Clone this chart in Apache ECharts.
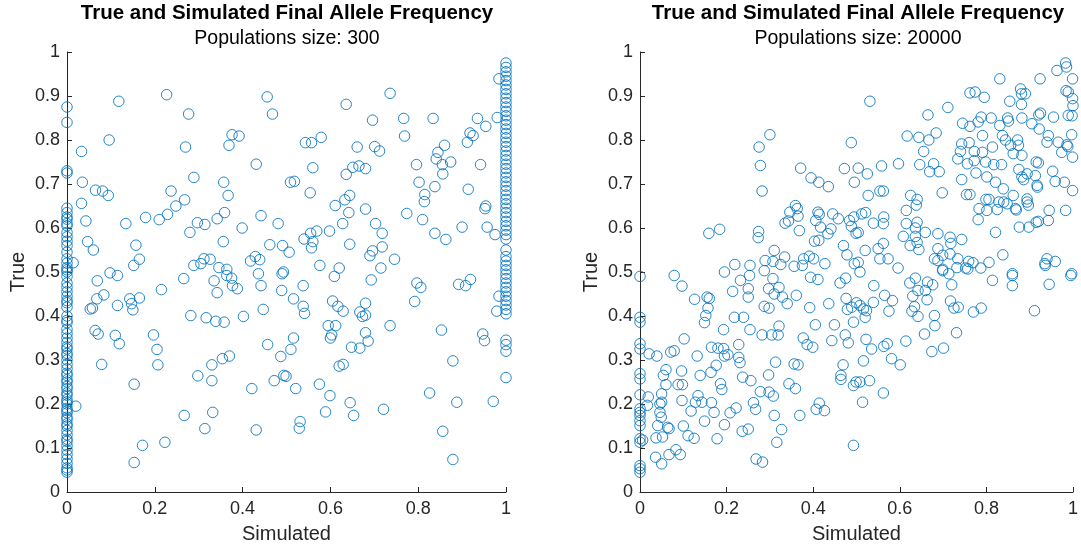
<!DOCTYPE html>
<html>
<head>
<meta charset="utf-8">
<script src="https://cdn.jsdelivr.net/npm/echarts@6/dist/echarts.min.js"></script>
<style>
html,body{margin:0;padding:0;background:#fff;}
#chart{width:1081px;height:552px;}
</style>
</head>
<body>
<div id="chart"></div>
<script>
// ---------- DATA ----------
const panelTitles = ['True and Simulated Final Allele Frequency', 'True and Simulated Final Allele Frequency'];
const panelSubtitles = ['Populations size: 300', 'Populations size: 20000'];
const xTicks = [0, 0.2, 0.4, 0.6, 0.8, 1];
const yTicks = [0, 0.1, 0.2, 0.3, 0.4, 0.5, 0.6, 0.7, 0.8, 0.9, 1];

// Population 300: points fixed at simulated = 0 (true values)
const pop300LostTrue = [0.875,0.84,0.73,0.725,0.645,0.635,0.625,0.62,0.61,0.605,0.59,0.58,0.57,0.56,0.545,0.53,0.52,0.51,0.505,0.5,0.49,0.475,0.465,0.455,0.445,0.435,0.43,0.42,0.40,0.39,0.385,0.37,0.36,0.35,0.34,0.33,0.325,0.315,0.31,0.30,0.29,0.28,0.27,0.265,0.255,0.25,0.24,0.235,0.225,0.22,0.21,0.205,0.20,0.19,0.185,0.18,0.17,0.165,0.155,0.15,0.14,0.13,0.12,0.115,0.105,0.095,0.085,0.075,0.065,0.055,0.05,0.045];
// Population 300: points fixed at simulated = 1 (true values)
const pop300FixedTrue = [0.975,0.965,0.955,0.945,0.935,0.925,0.915,0.905,0.895,0.885,0.875,0.865,0.855,0.845,0.835,0.825,0.815,0.805,0.795,0.785,0.775,0.765,0.755,0.745,0.735,0.725,0.715,0.705,0.695,0.685,0.675,0.665,0.655,0.645,0.635,0.625,0.615,0.605,0.595,0.585,0.575,0.55,0.535,0.525,0.515,0.505,0.495,0.485,0.475,0.465,0.455,0.445,0.435,0.425,0.415,0.405,0.345,0.335,0.32,0.26];
// Population 300: other points [simulated, true]
const pop300Points = [
[0.118,0.888],[0.227,0.903],[0.277,0.859],[0.096,0.800],[0.033,0.774],[0.270,0.784],[0.376,0.812],[0.392,0.809],[0.369,0.788],[0.456,0.898],[0.468,0.859],[0.431,0.745],[0.035,0.704],[0.065,0.686],[0.081,0.684],[0.094,0.674],[0.033,0.656],[0.237,0.684],[0.289,0.715],[0.268,0.664],[0.248,0.650],[0.229,0.631],[0.210,0.619],[0.179,0.624],[0.134,0.610],[0.043,0.616],[0.357,0.704],[0.367,0.674],[0.359,0.635],[0.342,0.621],[0.297,0.612],[0.314,0.608],[0.280,0.590],[0.399,0.600],[0.442,0.628],[0.481,0.610],[0.356,0.569],[0.462,0.562],[0.047,0.569],[0.060,0.550],[0.157,0.561],[0.165,0.529],[0.152,0.515],[0.289,0.515],[0.305,0.519],[0.312,0.530],[0.326,0.529],[0.346,0.510],[0.364,0.506],[0.418,0.525],[0.429,0.535],[0.439,0.528],[0.491,0.560],[0.014,0.521],
[0.736,0.906],[0.636,0.881],[0.696,0.845],[0.767,0.849],[0.834,0.849],[0.769,0.809],[0.935,0.849],[0.954,0.831],[0.980,0.851],[0.984,0.939],[0.918,0.816],[0.925,0.810],[0.912,0.795],[0.543,0.794],[0.557,0.794],[0.579,0.806],[0.661,0.784],[0.701,0.785],[0.712,0.775],[0.860,0.788],[0.845,0.772],[0.841,0.757],[0.855,0.744],[0.874,0.750],[0.856,0.723],[0.796,0.744],[0.942,0.744],[0.802,0.704],[0.838,0.694],[0.815,0.676],[0.814,0.660],[0.914,0.688],[0.954,0.650],[0.952,0.644],[0.957,0.602],[0.975,0.585],[0.900,0.602],[0.863,0.574],[0.838,0.588],[0.810,0.619],[0.774,0.633],[0.560,0.737],[0.554,0.680],[0.509,0.704],[0.518,0.706],[0.636,0.722],[0.651,0.738],[0.665,0.741],[0.680,0.735],[0.644,0.674],[0.633,0.664],[0.611,0.651],[0.642,0.635],[0.680,0.643],[0.628,0.610],[0.703,0.610],[0.718,0.588],[0.718,0.557],[0.696,0.548],[0.690,0.537],[0.746,0.529],[0.715,0.509],[0.644,0.563],[0.598,0.593],[0.569,0.593],[0.555,0.588],[0.540,0.575],[0.560,0.569],[0.557,0.555],[0.506,0.545],[0.576,0.515],[0.620,0.509],[0.493,0.500],
[0.069,0.480],[0.098,0.498],[0.115,0.492],[0.053,0.416],[0.058,0.418],[0.068,0.439],[0.084,0.448],[0.115,0.424],[0.143,0.439],[0.147,0.428],[0.150,0.414],[0.165,0.441],[0.215,0.460],[0.266,0.485],[0.335,0.480],[0.342,0.453],[0.364,0.492],[0.375,0.486],[0.377,0.469],[0.388,0.462],[0.436,0.496],[0.442,0.469],[0.489,0.458],[0.490,0.496],[0.282,0.401],[0.317,0.396],[0.339,0.388],[0.358,0.386],[0.402,0.399],[0.447,0.415],[0.064,0.367],[0.071,0.359],[0.110,0.356],[0.119,0.337],[0.197,0.357],[0.205,0.324],[0.207,0.289],[0.079,0.290],[0.153,0.245],[0.298,0.264],[0.330,0.289],[0.330,0.253],[0.354,0.303],[0.370,0.309],[0.457,0.335],[0.487,0.308],[0.421,0.235],[0.472,0.253],[0.494,0.265],[0.267,0.174],[0.332,0.181],[0.314,0.144],[0.431,0.141],[0.172,0.106],[0.223,0.113],[0.153,0.067],[0.020,0.195],
[0.609,0.490],[0.693,0.482],[0.538,0.469],[0.516,0.439],[0.538,0.422],[0.541,0.406],[0.605,0.434],[0.617,0.422],[0.629,0.411],[0.667,0.409],[0.680,0.429],[0.673,0.399],[0.680,0.402],[0.595,0.378],[0.612,0.378],[0.603,0.357],[0.600,0.350],[0.680,0.362],[0.686,0.343],[0.648,0.329],[0.667,0.327],[0.736,0.378],[0.516,0.350],[0.510,0.324],[0.620,0.286],[0.629,0.290],[0.499,0.263],[0.521,0.235],[0.575,0.245],[0.599,0.219],[0.645,0.203],[0.589,0.182],[0.653,0.174],[0.721,0.188],[0.531,0.160],[0.529,0.145],[0.797,0.475],[0.806,0.465],[0.792,0.433],[0.892,0.472],[0.908,0.469],[0.919,0.483],[0.853,0.368],[0.947,0.359],[0.951,0.344],[0.879,0.298],[0.826,0.225],[0.888,0.204],[0.971,0.206],[0.856,0.138],[0.879,0.074],[0.984,0.445],[0.979,0.411]
];

// Population 20000: points at simulated = 0 (true values)
const pop20000LostTrue = [0.49,0.397,0.386,0.337,0.325,0.269,0.257,0.221,0.189,0.181,0.174,0.162,0.151,0.121,0.113,0.060,0.053,0.045];
// Population 20000: other points [simulated, true]
const pop20000Points = [
[0.300,0.812],[0.275,0.784],[0.278,0.742],[0.282,0.684],[0.371,0.736],[0.395,0.714],[0.413,0.704],[0.435,0.694],[0.488,0.794],[0.472,0.735],[0.495,0.704],[0.159,0.588],[0.184,0.597],[0.274,0.592],[0.273,0.578],[0.310,0.549],[0.335,0.611],[0.343,0.616],[0.359,0.651],[0.363,0.644],[0.346,0.636],[0.365,0.627],[0.368,0.594],[0.411,0.636],[0.414,0.631],[0.406,0.617],[0.417,0.602],[0.434,0.587],[0.441,0.598],[0.445,0.632],[0.458,0.621],[0.403,0.570],[0.413,0.572],[0.470,0.560],[0.478,0.539],[0.484,0.617],[0.488,0.604],[0.499,0.588],[0.289,0.526],[0.307,0.524],[0.325,0.517],[0.334,0.534],[0.356,0.513],[0.375,0.515],[0.378,0.530],[0.391,0.536],[0.401,0.530],[0.427,0.519],[0.219,0.517],[0.254,0.515],[0.195,0.500],[0.079,0.492],[0.495,0.519],
[0.531,0.888],[0.711,0.874],[0.665,0.857],[0.762,0.907],[0.774,0.909],[0.795,0.897],[0.831,0.939],[0.924,0.939],[0.963,0.958],[0.983,0.975],[0.985,0.966],[0.999,0.939],[0.984,0.912],[0.989,0.909],[0.999,0.894],[1.0,0.878],[0.989,0.856],[0.998,0.855],[0.879,0.916],[0.890,0.905],[0.881,0.905],[0.854,0.888],[0.881,0.881],[0.925,0.861],[0.921,0.857],[0.955,0.852],[0.882,0.850],[0.905,0.837],[0.849,0.850],[0.851,0.843],[0.811,0.850],[0.788,0.852],[0.781,0.841],[0.745,0.838],[0.762,0.831],[0.831,0.833],[0.922,0.825],[0.943,0.810],[0.940,0.795],[0.966,0.795],[0.986,0.789],[0.997,0.812],[0.988,0.785],[0.974,0.772],[0.999,0.761],[0.837,0.810],[0.844,0.800],[0.872,0.800],[0.874,0.788],[0.856,0.788],[0.862,0.769],[0.882,0.765],[0.814,0.784],[0.791,0.810],[0.760,0.794],[0.743,0.791],[0.740,0.774],[0.772,0.774],[0.791,0.772],[0.734,0.757],[0.756,0.746],[0.772,0.753],[0.798,0.750],[0.817,0.744],[0.835,0.744],[0.776,0.725],[0.801,0.716],[0.821,0.704],[0.875,0.733],[0.882,0.716],[0.886,0.710],[0.894,0.723],[0.915,0.750],[0.920,0.748],[0.913,0.719],[0.917,0.697],[0.918,0.693],[0.953,0.729],[0.959,0.706],[0.980,0.704],[0.999,0.685],[0.743,0.710],[0.839,0.689],[0.862,0.674],[0.840,0.659],[0.848,0.655],[0.867,0.644],[0.869,0.641],[0.894,0.659],[0.897,0.652],[0.894,0.666],[0.829,0.659],[0.806,0.665],[0.799,0.665],[0.801,0.640],[0.783,0.644],[0.781,0.619],[0.825,0.642],[0.876,0.602],[0.898,0.602],[0.915,0.613],[0.920,0.615],[0.943,0.617],[0.945,0.640],[0.983,0.640],[0.821,0.590],[0.838,0.539],[0.940,0.530],[0.959,0.524],[0.935,0.519],[0.997,0.496],[0.860,0.496],[0.698,0.680],[0.762,0.676],[0.754,0.676],[0.597,0.746],[0.558,0.741],[0.504,0.736],[0.525,0.723],[0.554,0.684],[0.562,0.684],[0.527,0.674],[0.617,0.809],[0.644,0.806],[0.667,0.800],[0.684,0.816],[0.655,0.774],[0.646,0.744],[0.669,0.728],[0.678,0.746],[0.691,0.728],[0.625,0.674],[0.640,0.665],[0.638,0.652],[0.615,0.640],[0.494,0.625],[0.512,0.632],[0.521,0.635],[0.539,0.611],[0.563,0.625],[0.562,0.610],[0.504,0.590],[0.615,0.610],[0.640,0.613],[0.636,0.600],[0.659,0.590],[0.688,0.587],[0.608,0.581],[0.636,0.581],[0.640,0.567],[0.624,0.560],[0.644,0.551],[0.688,0.553],[0.716,0.579],[0.718,0.565],[0.743,0.574],[0.699,0.538],[0.716,0.541],[0.680,0.530],[0.688,0.526],[0.734,0.530],[0.759,0.524],[0.769,0.521],[0.806,0.522],[0.787,0.509],[0.752,0.509],[0.732,0.510],[0.699,0.506],[0.596,0.509],[0.554,0.530],[0.573,0.530],[0.550,0.553],[0.562,0.565],[0.520,0.549],[0.504,0.522],[0.508,0.500],
[0.097,0.468],[0.126,0.438],[0.155,0.443],[0.160,0.440],[0.157,0.418],[0.152,0.401],[0.149,0.385],[0.232,0.481],[0.214,0.456],[0.250,0.462],[0.250,0.443],[0.253,0.492],[0.218,0.397],[0.239,0.397],[0.193,0.369],[0.254,0.369],[0.102,0.348],[0.021,0.314],[0.039,0.309],[0.071,0.318],[0.079,0.321],[0.132,0.309],[0.165,0.329],[0.180,0.327],[0.193,0.326],[0.195,0.309],[0.203,0.312],[0.228,0.335],[0.228,0.306],[0.231,0.294],[0.176,0.288],[0.164,0.272],[0.139,0.265],[0.060,0.278],[0.054,0.265],[0.060,0.244],[0.096,0.275],[0.088,0.244],[0.098,0.244],[0.237,0.261],[0.256,0.253],[0.186,0.246],[0.189,0.233],[0.297,0.266],[0.313,0.295],[0.282,0.357],[0.304,0.357],[0.319,0.357],[0.321,0.377],[0.287,0.422],[0.298,0.418],[0.287,0.503],[0.307,0.485],[0.297,0.462],[0.310,0.450],[0.321,0.465],[0.329,0.443],[0.340,0.428],[0.361,0.447],[0.394,0.488],[0.411,0.483],[0.392,0.419],[0.436,0.428],[0.405,0.380],[0.449,0.380],[0.443,0.344],[0.474,0.357],[0.481,0.339],[0.462,0.475],[0.475,0.486],[0.476,0.440],[0.479,0.415],[0.500,0.430],[0.493,0.386],[0.377,0.350],[0.386,0.335],[0.399,0.329],[0.344,0.246],[0.359,0.235],[0.356,0.291],[0.365,0.289],[0.469,0.289],[0.464,0.265],[0.464,0.256],[0.493,0.242],[0.499,0.250],[0.278,0.228],[0.298,0.227],[0.308,0.218],[0.262,0.203],[0.267,0.188],[0.222,0.191],[0.208,0.180],[0.171,0.181],[0.165,0.203],[0.143,0.204],[0.134,0.219],[0.128,0.204],[0.118,0.184],[0.097,0.208],[0.050,0.223],[0.046,0.200],[0.050,0.204],[0.019,0.216],[0.017,0.197],[0.046,0.181],[0.049,0.170],[0.041,0.151],[0.064,0.147],[0.067,0.144],[0.052,0.125],[0.037,0.123],[0.006,0.118],[0.100,0.150],[0.111,0.128],[0.125,0.122],[0.149,0.161],[0.178,0.121],[0.195,0.153],[0.236,0.138],[0.250,0.143],[0.310,0.174],[0.327,0.142],[0.316,0.113],[0.369,0.174],[0.407,0.188],[0.414,0.202],[0.426,0.185],[0.493,0.106],[0.268,0.075],[0.283,0.068],[0.036,0.079],[0.050,0.064],[0.067,0.085],[0.083,0.096],[0.093,0.085],
[0.540,0.469],[0.565,0.447],[0.583,0.435],[0.575,0.411],[0.539,0.431],[0.523,0.412],[0.508,0.424],[0.516,0.416],[0.520,0.397],[0.489,0.420],[0.522,0.347],[0.535,0.325],[0.516,0.298],[0.563,0.331],[0.571,0.337],[0.614,0.343],[0.581,0.303],[0.601,0.289],[0.530,0.253],[0.508,0.250],[0.562,0.225],[0.514,0.204],[0.623,0.475],[0.636,0.486],[0.642,0.458],[0.659,0.458],[0.664,0.477],[0.676,0.471],[0.630,0.445],[0.663,0.437],[0.634,0.421],[0.628,0.411],[0.642,0.399],[0.680,0.401],[0.681,0.378],[0.657,0.359],[0.674,0.319],[0.701,0.327],[0.731,0.362],[0.720,0.471],[0.717,0.434],[0.725,0.418],[0.735,0.420],[0.699,0.503],[0.713,0.496],[0.757,0.507],[0.770,0.409],[0.788,0.418],[0.814,0.481],[0.860,0.492],[0.860,0.469],[0.911,0.412],[0.945,0.472],[0.936,0.515],[0.995,0.492]
];

// ---------- BUILD ----------
const data300 = pop300LostTrue.map(v => [0, v])
  .concat(pop300FixedTrue.map(v => [1, v]))
  .concat(pop300Points);
const data20000 = pop20000LostTrue.map(v => [0, v]).concat(pop20000Points);

const FONT = '"Liberation Sans", Arial, Helvetica, sans-serif';
const AX = '#262626';
const MARK = '#0072BD';

function xAxisOf(i) {
  return {
    gridIndex: i, type: 'value', min: 0, max: 1, interval: 0.2,
    name: 'Simulated', nameLocation: 'middle', nameGap: 32,
    nameTextStyle: { fontFamily: FONT, fontSize: 20, color: AX },
    axisLine: { show: true, onZero: false, lineStyle: { color: AX, width: 1 } },
    axisTick: { show: true, inside: true, length: 5, lineStyle: { color: AX } },
    axisLabel: { fontFamily: FONT, fontSize: 18, color: AX, margin: 8,
      formatter: v => xTicks.includes(+v.toFixed(2)) ? String(+v.toFixed(2)) : '' },
    splitLine: { show: false }
  };
}
function yAxisOf(i) {
  return {
    gridIndex: i, type: 'value', min: 0, max: 1, interval: 0.1,
    name: 'True', nameLocation: 'middle', nameGap: 39,
    nameTextStyle: { fontFamily: FONT, fontSize: 20, color: AX },
    axisLine: { show: true, onZero: false, lineStyle: { color: AX, width: 1 } },
    axisTick: { show: true, inside: true, length: 5, lineStyle: { color: AX } },
    axisLabel: { fontFamily: FONT, fontSize: 18, color: AX, margin: 7,
      formatter: v => yTicks.includes(+v.toFixed(2)) ? String(+v.toFixed(2)) : '' },
    splitLine: { show: false }
  };
}
function seriesOf(i, data) {
  return {
    type: 'scatter', xAxisIndex: i, yAxisIndex: i, data: data,
    symbol: 'circle', symbolSize: 10.5,
    itemStyle: { color: 'rgba(255,255,255,0)', borderColor: MARK, borderWidth: 1, opacity: 0.85 },
    emphasis: { disabled: true }, silent: true
  };
}

const chart = echarts.init(document.getElementById('chart'), null, { renderer: 'canvas' });
chart.setOption({
  animation: false,
  backgroundColor: '#fff',
  title: [0, 1].map(i => ({
    text: panelTitles[i], subtext: panelSubtitles[i],
    left: i === 0 ? 287 : 858, top: 0, textAlign: 'center', itemGap: 5,
    padding: [3, 0, 0, 0],
    textStyle: { fontFamily: FONT, fontSize: 20.5, fontWeight: 'bold', color: '#000' },
    subtextStyle: { fontFamily: FONT, fontSize: 19.5, color: '#000' }
  })),
  grid: [
    { left: 67, top: 52, width: 439, height: 440 },
    { left: 640, top: 52, width: 436, height: 440 }
  ],
  xAxis: [xAxisOf(0), xAxisOf(1)],
  yAxis: [yAxisOf(0), yAxisOf(1)],
  series: [seriesOf(0, data300), seriesOf(1, data20000)]
});
</script>
</body>
</html>
